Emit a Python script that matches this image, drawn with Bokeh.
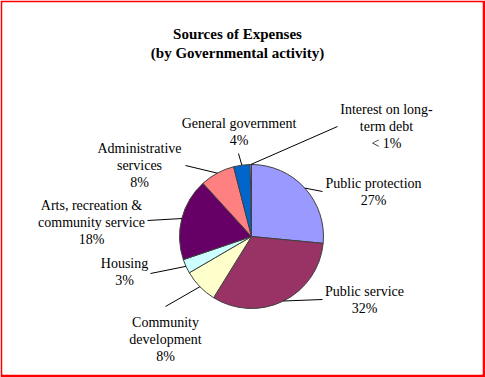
import math
from bokeh.plotting import figure
from bokeh.models import Range1d, ColumnDataSource
from bokeh.core.properties import value
from bokeh.embed import file_html
from bokeh.resources import INLINE

# ---- data ----
categories = ["Public protection", "Public service", "Community development", "Housing",
              "Arts, recreation & community service", "Administrative services",
              "General government", "Interest on long-term debt"]
shares = [26.6, 32.4, 7.8, 3.2, 18.5, 7.8, 3.7, 0.3]
pct_labels = ["27%", "32%", "8%", "3%", "18%", "8%", "4%", "< 1%"]
label_lines = [["Public protection"], ["Public service"], ["Community", "development"], ["Housing"],
               ["Arts, recreation &", "community service"], ["Administrative", "services"],
               ["General government"], ["Interest on long-", "term debt"]]
colors = ["#9999FF", "#993366", "#FFFFCC", "#CCFFFF", "#660066", "#FF8080", "#0066CC", "#FFFFFF"]
title_lines = ["Sources of Expenses", "(by Governmental activity)"]

# ---- layout (image pixel coordinates) ----
W, H = 485, 377
CX, CY, R = 251, 236, 72
label_pos = [(373, 183), (364, 291), (165, 322), (124, 263), (91, 205), (139, 148), (238.5, 123), (386, 109)]
leader_end = [(322, 191), (322, 299), (165, 306), (150, 273), (147, 220), (185, 165), (238, 153), (337, 126)]
LINE_H = 17
FONT = "Liberation Serif"

def Y(y):
    return H - y

p = figure(width=W, height=H, output_backend="svg", toolbar_location=None,
           x_range=Range1d(2, 482), y_range=Range1d(Y(374), Y(2)),
           min_border_left=2, min_border_right=3, min_border_top=2, min_border_bottom=3,
           x_axis_location=None, y_axis_location=None,
           border_fill_color="#FF0000", background_fill_color="white", outline_line_color=None)
p.grid.visible = False

total = sum(shares)
starts, ends, mids = [], [], []
cum = 0.0
for s in shares:
    a0 = math.pi / 2 - 2 * math.pi * cum / total
    cum += s
    a1 = math.pi / 2 - 2 * math.pi * cum / total
    starts.append(a0); ends.append(a1); mids.append((a0 + a1) / 2)

src = ColumnDataSource(dict(start=starts, end=ends, color=colors, cat=categories))
p.wedge(x=CX, y=Y(CY), radius=R, start_angle="start", end_angle="end", direction="clock",
        fill_color="color", line_color="#404040", line_width=1, source=src)

# leader lines
xs, ys = [], []
for m, (ex, ey) in zip(mids, leader_end):
    px = CX + R * math.cos(m)
    py = Y(CY) + R * math.sin(m)
    xs.append([ex, px]); ys.append([Y(ey), py])
p.multi_line(xs=xs, ys=ys, line_color="black", line_width=1)

# labels
tx, ty, tt = [], [], []
for lines, pct, (lx, ly) in zip(label_lines, pct_labels, label_pos):
    for i, t in enumerate(lines + [pct]):
        tx.append(lx); ty.append(Y(ly + i * LINE_H)); tt.append(t)
p.text(x=tx, y=ty, text=tt, text_font=value(FONT), text_font_size="14px",
       text_align="center", text_baseline="middle", text_color="black")

# title
p.text(x=[237, 237], y=[Y(33), Y(52)], text=title_lines, text_font=value(FONT),
       text_font_size="15px", text_font_style="bold", text_align="center",
       text_baseline="middle", text_color="black")

open("out.html", "w").write(file_html(p, INLINE))
